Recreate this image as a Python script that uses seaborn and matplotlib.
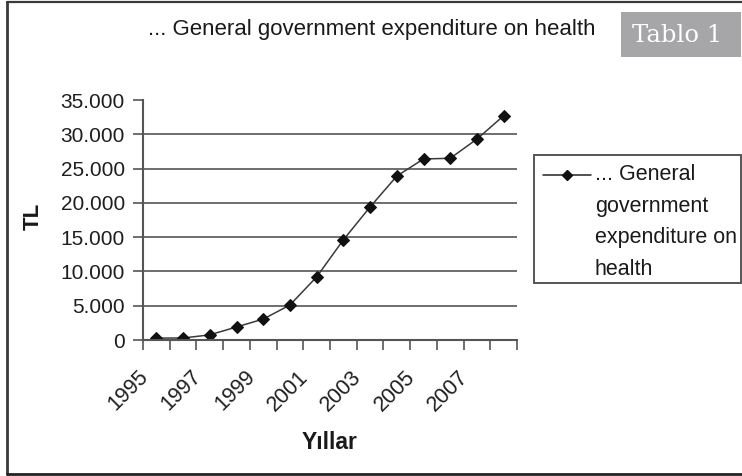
import matplotlib
matplotlib.use("Agg")
import matplotlib.pyplot as plt
import matplotlib.ticker as mticker
from matplotlib.lines import Line2D
from matplotlib.patches import Rectangle
from matplotlib.transforms import ScaledTranslation
import seaborn as sns
import pandas as pd

# Health expenditure series (TL), 1995-2008
years = [1995, 1996, 1997, 1998, 1999, 2000, 2001, 2002, 2003, 2004, 2005, 2006, 2007, 2008]
expenditure = [280, 290, 750, 1900, 3050, 5100, 9200, 14600, 19400, 23900, 26400, 26500, 29300, 32700]
label_years = [1995, 1997, 1999, 2001, 2003, 2005, 2007]
y_ticks = [0, 5000, 10000, 15000, 20000, 25000, 30000, 35000]

series_name = "... General government expenditure on health"
legend_text = "... General\ngovernment\nexpenditure on\nhealth"

sns.set_style("white")
plt.rcParams["font.family"] = ["Liberation Sans", "DejaVu Sans"]

W, H = 742, 476
fig = plt.figure(figsize=(W / 100, H / 100), dpi=100)


def fx(px):
    return px / W


def fy(py):
    return 1 - py / H


ax = fig.add_axes([fx(143), fy(340), fx(517) - fx(143), fy(100) - fy(340)])

df = pd.DataFrame({"Yıl": years, "TL": expenditure})
sns.lineplot(data=df, x="Yıl", y="TL", ax=ax, color="#3a3a3a", linewidth=1.1,
             marker="D", markersize=6.5, markerfacecolor="#111111",
             markeredgecolor="#111111")

ax.set_xlim(years[0] - 0.5, years[-1] + 0.5)
ax.set_ylim(0, 35000)

# horizontal gridlines (no line on the top value)
for v in y_ticks[1:-1]:
    ax.axhline(v, color="#6e6e6e", linewidth=1.4, zorder=0)

ax.set_yticks(y_ticks)
ax.yaxis.set_major_formatter(mticker.FuncFormatter(lambda v, p: f"{int(v):,}".replace(",", ".")))
ax.tick_params(axis="y", length=7, width=1.2, color="#555555", labelsize=15,
               labelcolor="#1e1e1e", pad=6, left=True)

# category boundary ticks on the x axis, labels on every other year
ax.set_xticks([y - 0.5 for y in years] + [years[-1] + 0.5])
ax.set_xticklabels([])
ax.set_xticks(label_years, minor=True)
ax.set_xticklabels([str(y) for y in label_years], minor=True, rotation=45,
                   ha="right", va="top", rotation_mode="anchor",
                   fontsize=15.5, color="#1e1e1e")
ax.tick_params(axis="x", which="major", length=7, width=1.2, color="#555555", bottom=True)
ax.tick_params(axis="x", which="minor", length=0, pad=19)
shift = ScaledTranslation(-19 / 100, 0, fig.dpi_scale_trans)
for lab in ax.get_xticklabels(minor=True):
    lab.set_transform(lab.get_transform() + shift)

for side in ("top", "right"):
    ax.spines[side].set_visible(False)
for side in ("left", "bottom"):
    ax.spines[side].set_color("#555555")
    ax.spines[side].set_linewidth(1.5)

ax.set_xlabel("Yıllar", fontsize=16.5, fontweight="bold", color="#1a1a1a")
ax.xaxis.set_label_coords(0.5, (340 - 431) / 240)
ax.set_ylabel("TL", fontsize=16, fontweight="bold", color="#1a1a1a")
ax.yaxis.set_label_coords((44 - 143) / 374, (340 - 216) / 240)

# title
fig.text(fx(372), fy(30), series_name, ha="center", va="center", fontsize=16, color="#1a1a1a")

# "Tablo 1" tag
fig.patches.append(Rectangle((fx(621), fy(57)), fx(741) - fx(621), fy(12) - fy(57),
                             transform=fig.transFigure, facecolor="#a6a6a9", edgecolor="none"))
fig.text(fx(677), fy(35), "Tablo 1", ha="center", va="center", fontsize=17.5,
         family="DejaVu Serif", color="white")

# legend box
fig.patches.append(Rectangle((fx(534), fy(283)), fx(741) - fx(534), fy(155) - fy(283),
                             transform=fig.transFigure, facecolor="white",
                             edgecolor="#555555", linewidth=1.4))
fig.add_artist(Line2D([fx(543), fx(591)], [fy(175), fy(175)], transform=fig.transFigure,
                      color="#222222", linewidth=1.1))
fig.add_artist(Line2D([fx(567)], [fy(175)], transform=fig.transFigure, marker="D",
                      markersize=5, color="#111111", linestyle="none"))
fig.text(fx(595), fy(164), legend_text, ha="left", va="top", fontsize=15.5,
         color="#1a1a1a", linespacing=1.66)

# page frame
fig.add_artist(Line2D([fx(6.5), fx(6.5)], [fy(2), fy(474)], transform=fig.transFigure,
                      color="#3a3a3a", linewidth=2))
fig.add_artist(Line2D([fx(6.5), 1], [fy(2), fy(2)], transform=fig.transFigure,
                      color="#3a3a3a", linewidth=1.6))
fig.add_artist(Line2D([fx(6.5), 1], [fy(474), fy(474)], transform=fig.transFigure,
                      color="#222222", linewidth=2))

fig.savefig("out.png", dpi=100)
